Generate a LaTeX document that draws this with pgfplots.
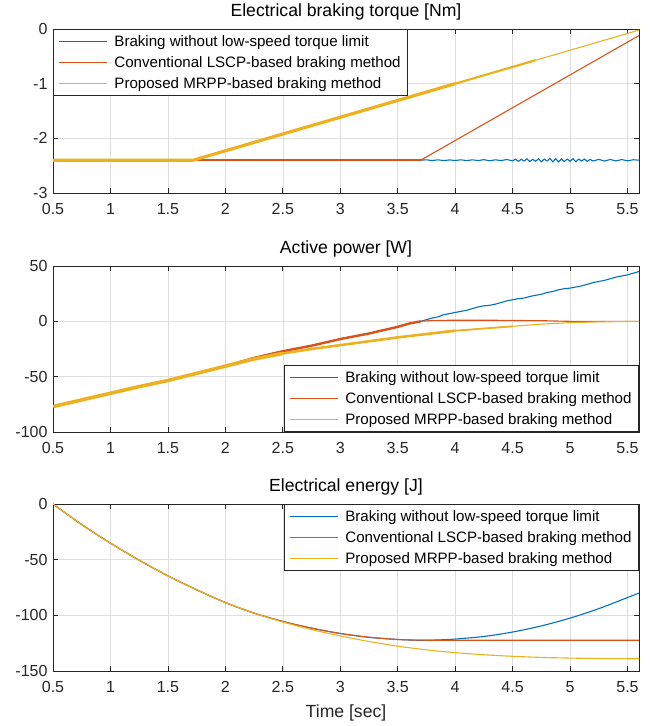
\documentclass[border=0pt]{standalone}
\usepackage{pgfplots}
\pgfplotsset{compat=1.18}
\usepackage{fontspec}
\setmainfont{Liberation Sans}

\definecolor{mblue}{rgb}{0,0.447,0.741}
\definecolor{mred}{rgb}{0.850,0.325,0.098}
\definecolor{myellow}{rgb}{0.929,0.694,0.125}
\definecolor{axgray}{rgb}{0.15,0.15,0.15}

\pgfplotsset{
  panel/.style={
    scale only axis, width=586pt, anchor=south west,
    xmin=0.5, xmax=5.6, xtick={0.5,1,...,5.5},
    grid=major, grid style={draw=black!13, line width=0.6pt},
    axis line style={draw=axgray, line width=0.8pt},
    tick style={draw=axgray, line width=0.8pt}, major tick length=5pt,
    tick align=inside,
    /pgf/number format/assume math mode=true,
    ticklabel style={font=\fontsize{16}{18}\selectfont, text=axgray},
    xticklabel style={yshift=-7pt},
    yticklabel style={xshift=-2pt},
    title style={font=\fontsize{17.6}{20}\selectfont, text=black, yshift=-1pt},
    label style={font=\fontsize{17.6}{20}\selectfont, text=axgray},
    xlabel style={yshift=-5pt},
    legend cell align=left,
    legend style={draw=axgray, line width=0.8pt, fill=white,
      font=\fontsize{15.1}{16}\selectfont, inner xsep=5pt, inner ysep=4pt,
      row sep=4.5pt, cells={anchor=west}},
    legend image code/.code={
      \draw[#1, line width=1pt] (5pt,0pt) -- (53pt,0pt);
      \path (58pt,0pt);},
  },
}

\begin{document}
\begin{tikzpicture}
\useasboundingbox (0,0) rectangle (649pt,726pt);

% ---------------- Electrical braking torque ----------------
\begin{axis}[panel, at={(53pt,533pt)}, height=164pt,
  ymin=-3, ymax=0, ytick={-3,-2,-1,0},
  title={Electrical braking torque [Nm]},
  legend style={at={(0,1)}, anchor=north west}]
\addplot[mblue, line width=1.1pt] coordinates {
 (0.5,-2.4) (3.7,-2.4) (3.75,-2.393) (3.8,-2.407) (3.85,-2.393) (3.9,-2.407)
 (3.95,-2.395) (4.0,-2.405) (4.05,-2.393) (4.1,-2.407) (4.15,-2.393) (4.2,-2.407)
 (4.25,-2.39) (4.3,-2.41) (4.35,-2.393) (4.4,-2.407) (4.45,-2.387) (4.5,-2.413)
 (4.525,-2.38) (4.55,-2.42) (4.575,-2.385) (4.6,-2.415) (4.625,-2.375) (4.65,-2.425)
 (4.675,-2.385) (4.7,-2.42) (4.725,-2.375) (4.75,-2.43) (4.775,-2.38) (4.8,-2.415)
 (4.825,-2.37) (4.85,-2.43) (4.875,-2.372) (4.9,-2.432) (4.925,-2.375) (4.95,-2.425)
 (4.975,-2.38) (5.0,-2.42) (5.025,-2.372) (5.05,-2.428) (5.075,-2.38) (5.1,-2.415)
 (5.125,-2.38) (5.15,-2.42) (5.175,-2.385) (5.2,-2.415) (5.25,-2.385) (5.3,-2.415)
 (5.35,-2.387) (5.4,-2.413) (5.45,-2.388) (5.5,-2.412) (5.55,-2.392) (5.6,-2.4)};
\addplot[mred, line width=1.1pt] coordinates {(0.5,-2.4) (3.7,-2.4) (5.6,-0.12)};
\addplot[mred, line width=2.6pt, forget plot] coordinates {(0.5,-2.4) (3.7,-2.4)};
\addplot[myellow, line width=1.1pt] coordinates {(0.5,-2.4) (1.72,-2.4) (5.6,-0.02)};
\addplot[myellow, line width=3.2pt, forget plot] coordinates {(0.5,-2.4) (1.72,-2.4) (4.0,-1.0)};
\addplot[myellow, line width=2.2pt, forget plot] coordinates {(3.9,-1.062) (4.7,-0.571)};
\legend{Braking without low-speed torque limit,
        Conventional LSCP-based braking method,
        Proposed MRPP-based braking method}
\end{axis}

% ---------------- Active power ----------------
\begin{axis}[panel, at={(53pt,294pt)}, height=166pt,
  ymin=-100, ymax=50, ytick={-100,-50,0,50},
  title={Active power [W]},
  legend style={at={(1,0)}, anchor=south east}]
\addplot[mblue, line width=1.1pt] coordinates {
 (0.5,-77) (1,-65) (1.5,-53.5) (2,-40.5) (2.25,-33) (2.5,-27) (2.75,-22)
 (3,-16) (3.25,-11) (3.5,-5) (3.6,-2) (3.7,0) (3.75,1.5) (3.8,3) (3.85,4)
 (3.9,6) (3.95,7) (4.0,8) (4.05,9) (4.1,10) (4.15,11.5) (4.2,13) (4.25,14)
 (4.3,14.5) (4.35,15.5) (4.4,17) (4.45,18.5) (4.5,19.5) (4.55,20.5) (4.6,21)
 (4.65,22.5) (4.7,23.5) (4.75,24.5) (4.8,26) (4.85,27) (4.9,28.5) (4.95,29.5)
 (5.0,30) (5.05,31) (5.1,32) (5.15,33.5) (5.2,35) (5.25,36) (5.3,37)
 (5.35,38.5) (5.4,40) (5.45,41) (5.5,42) (5.55,43.5) (5.6,45)};
\addplot[mred, line width=1.1pt] coordinates {
 (0.5,-77) (1,-65) (1.5,-53.5) (2,-40.5) (2.25,-33) (2.5,-27) (2.75,-22)
 (3,-16) (3.25,-11) (3.5,-5) (3.6,-2) (3.7,0) (3.8,0.8) (4,1) (4.3,1)
 (4.5,0.8) (4.75,0.6) (5,0) (5.6,0)};
\addplot[mred, line width=2.4pt, forget plot] coordinates {
 (2,-40.5) (2.25,-33) (2.5,-27) (2.75,-22) (3,-16) (3.25,-11) (3.5,-5) (3.6,-2) (3.7,0)};
\addplot[myellow, line width=1.1pt] coordinates {
 (0.5,-77) (0.75,-71) (1,-65) (1.25,-59) (1.5,-53.5) (1.75,-47) (2,-40.5)
 (2.25,-34) (2.5,-29) (2.75,-25) (3,-21.5) (3.25,-18) (3.5,-14.5)
 (3.75,-11.5) (4,-8.5) (4.25,-6.5) (4.5,-4.5) (4.75,-2.5) (5,-1.2)
 (5.25,-0.5) (5.6,0)};
\addplot[myellow, line width=3.6pt, forget plot] coordinates {
 (0.5,-77) (0.75,-71) (1,-65) (1.25,-59) (1.5,-53.5) (1.75,-47) (2,-40.5)
 (2.25,-34) (2.5,-29)};
\addplot[myellow, line width=2.6pt, forget plot] coordinates {
 (2.4,-31) (2.5,-29) (2.75,-25) (3,-21.5) (3.25,-18) (3.5,-14.5)
 (3.75,-11.5) (4,-8.5)};
\addplot[myellow, line width=1.8pt, forget plot] coordinates {
 (3.9,-9.3) (4,-8.5) (4.25,-6.5) (4.5,-4.5)};
\legend{Braking without low-speed torque limit,
        Conventional LSCP-based braking method,
        Proposed MRPP-based braking method}
\end{axis}

% ---------------- Electrical energy ----------------
\begin{axis}[panel, at={(53pt,55pt)}, height=167pt,
  ymin=-150, ymax=0, ytick={-150,-100,-50,0},
  title={Electrical energy [J]}, xlabel={Time [sec]},
  legend style={at={(1,1)}, anchor=north east}]
\addplot[mblue, line width=1.1pt, smooth] coordinates {
 (0.5,0) (0.75,-18.5) (1,-35.2) (1.25,-50.5) (1.5,-64.5) (1.75,-77)
 (2,-88.5) (2.25,-98) (2.5,-105.5) (2.75,-111.5) (3,-116.3) (3.25,-119.7)
 (3.5,-121.7) (3.7,-122.4) (3.85,-122.1) (4,-121.3) (4.25,-119)
 (4.5,-115) (4.75,-109.5) (5,-102.5) (5.25,-94) (5.5,-84) (5.6,-80)};
\addplot[mred, line width=1.1pt, smooth] coordinates {
 (0.5,0) (0.75,-18.5) (1,-35.2) (1.25,-50.5) (1.5,-64.5) (1.75,-77)
 (2,-88.5) (2.25,-98) (2.5,-105.5) (2.75,-111.5) (3,-116.3) (3.25,-119.7)
 (3.5,-121.7) (3.7,-122.3) (4,-122.4) (4.5,-122.4) (5,-122.4) (5.6,-122.4)};
\addplot[myellow, line width=1.1pt, smooth] coordinates {
 (0.5,0) (0.75,-18.5) (1,-35.2) (1.25,-50.5) (1.5,-64.5) (1.75,-77)
 (2,-88.5) (2.25,-98) (2.5,-106) (2.75,-112.8) (3,-118.5) (3.25,-123.5)
 (3.5,-127.7) (3.75,-131) (4,-133.5) (4.25,-135.4) (4.5,-136.8)
 (4.75,-137.8) (5,-138.4) (5.25,-138.8) (5.6,-139)};
\legend{Braking without low-speed torque limit,
        Conventional LSCP-based braking method,
        Proposed MRPP-based braking method}
\end{axis}
\end{tikzpicture}
\end{document}
